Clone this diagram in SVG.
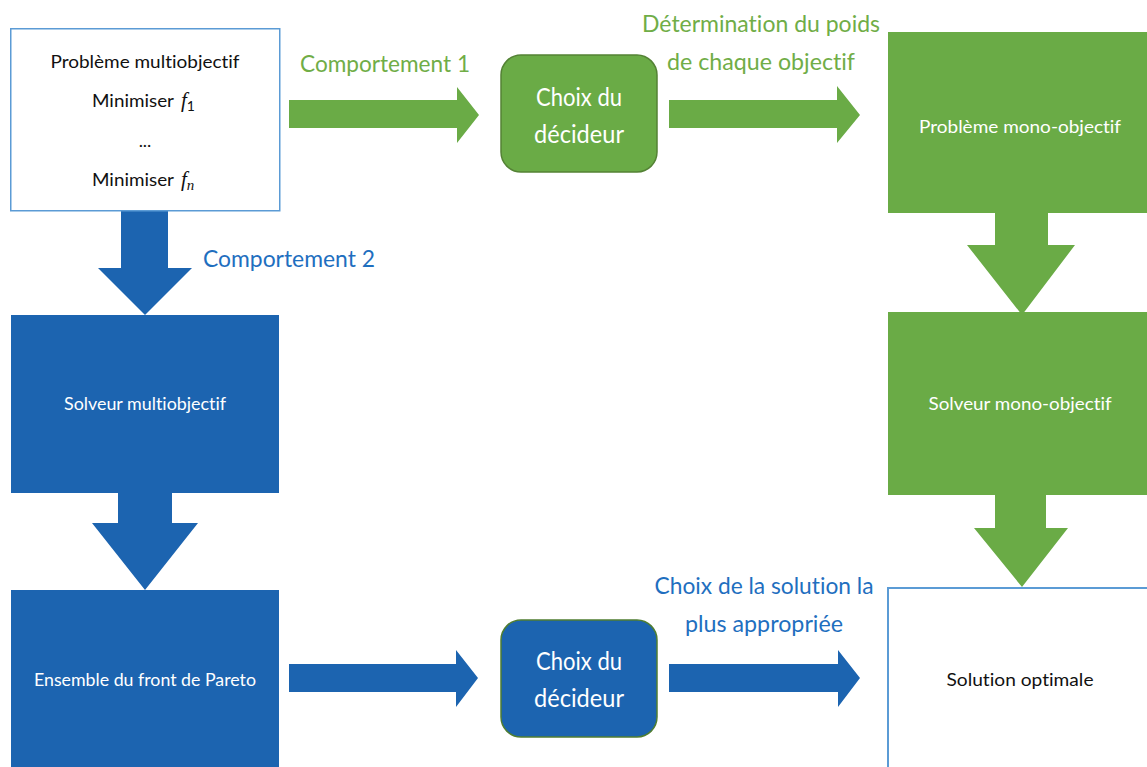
<svg xmlns="http://www.w3.org/2000/svg" width="1147" height="767" viewBox="0 0 1147 767">
<style>
text{font-variant-ligatures:none}
.lbl{font-family:Lato,"Open Sans","Liberation Sans",sans-serif;font-size:24px;text-anchor:middle}
.g{fill:#70AD47}
.b{fill:#1F6FBF}
.nt{font-family:Lato,"Open Sans","Liberation Sans",sans-serif;font-size:18px;text-anchor:middle}
.w{fill:#ffffff}
.k{fill:#111111}
.gf{fill:#6AAB46}
.bf{fill:#1C64B0}
.dec{font-family:Lato,"Open Sans","Liberation Sans",sans-serif;font-size:25px;text-anchor:middle;fill:#ffffff}
.m{font-family:"Liberation Serif",serif;font-style:italic}
</style>
<rect width="1147" height="767" fill="#ffffff"/>
<g id="connectors">
<polygon id="c1" class="gf" points="289,100 457,100 457,87 479,115 457,143 457,128 289,128"/>
<polygon id="c2" class="gf" points="669,100 837,100 837,86 860,115 837,143 837,128 669,128"/>
<polygon id="c3" class="bf" points="121,211 168,211 168,268 192,268 145,315 98,268 121,268"/>
<polygon id="c4" class="bf" points="118,493 172,493 172,523 198,523 145,590 92,523 118,523"/>
<polygon id="c5" class="bf" points="289,664 456,664 456,650 478,678 456,707 456,692 289,692"/>
<polygon id="c6" class="bf" points="669,664 838,664 838,650 860,678 838,707 838,692 669,692"/>
<polygon id="c7" class="gf" points="995,213 1048,213 1048,245 1075,245 1022,315 967,245 995,245"/>
<polygon id="c8" class="gf" points="995,495 1046,495 1046,528 1068,528 1022,587 974,528 995,528"/>
<text class="lbl g" x="385" y="72" textLength="170" lengthAdjust="spacingAndGlyphs">Comportement 1</text>
<text class="lbl g" x="761" y="32" textLength="238" lengthAdjust="spacingAndGlyphs">Détermination du poids</text>
<text class="lbl g" x="761" y="70" textLength="188" lengthAdjust="spacingAndGlyphs">de chaque objectif</text>
<text class="lbl b" x="289" y="267" textLength="172" lengthAdjust="spacingAndGlyphs">Comportement 2</text>
<text class="lbl b" x="764" y="594" textLength="219" lengthAdjust="spacingAndGlyphs">Choix de la solution la</text>
<text class="lbl b" x="764" y="632" textLength="158" lengthAdjust="spacingAndGlyphs">plus appropriée</text>
</g>
<g id="n-multi">
<rect x="10.75" y="28.75" width="269" height="182" fill="#ffffff" stroke="#5B9BD5" stroke-width="1.5"/>
<text class="nt k" x="145" y="68" textLength="189" lengthAdjust="spacingAndGlyphs">Problème multiobjectif</text>
<text class="nt k" x="92" y="107" style="text-anchor:start"><tspan textLength="82" lengthAdjust="spacingAndGlyphs">Minimiser</tspan><tspan class="m" x="181" font-size="21">f</tspan><tspan font-size="14" dy="4">1</tspan></text>
<text class="nt k" x="145" y="147" font-size="14">...</text>
<text class="nt k" x="92" y="186" style="text-anchor:start"><tspan textLength="82" lengthAdjust="spacingAndGlyphs">Minimiser</tspan><tspan class="m" x="181" font-size="21">f</tspan><tspan class="m" font-size="15" dy="4">n</tspan></text>
</g>
<g id="n-decideur1">
<rect x="501" y="55" width="156" height="117" rx="20" class="gf" stroke="#548235" stroke-width="1.5"/>
<text class="dec" x="579" y="106" textLength="86" lengthAdjust="spacingAndGlyphs">Choix du</text>
<text class="dec" x="579" y="143" textLength="90" lengthAdjust="spacingAndGlyphs">décideur</text>
</g>
<g id="n-mono">
<rect x="888" y="32" width="259" height="181" class="gf"/>
<text class="nt w" x="1020" y="133" textLength="202" lengthAdjust="spacingAndGlyphs">Problème mono-objectif</text>
</g>
<g id="n-solveur-mono">
<rect x="888" y="312" width="259" height="183" class="gf"/>
<text class="nt w" x="1020" y="410" textLength="183" lengthAdjust="spacingAndGlyphs">Solveur mono-objectif</text>
</g>
<g id="n-solveur-multi">
<rect x="11" y="315" width="268" height="178" class="bf"/>
<text class="nt w" x="145" y="410" textLength="162" lengthAdjust="spacingAndGlyphs">Solveur multiobjectif</text>
</g>
<g id="n-pareto">
<rect x="11" y="590" width="268" height="180" class="bf"/>
<text class="nt w" x="145" y="686" textLength="222" lengthAdjust="spacingAndGlyphs">Ensemble du front de Pareto</text>
</g>
<g id="n-decideur2">
<rect x="501" y="620" width="156" height="117" rx="20" class="bf" stroke="#507E32" stroke-width="1.5"/>
<text class="dec" x="579" y="670" textLength="86" lengthAdjust="spacingAndGlyphs">Choix du</text>
<text class="dec" x="579" y="707" textLength="90" lengthAdjust="spacingAndGlyphs">décideur</text>
</g>
<g id="n-solution">
<rect x="888" y="588" width="262" height="185" fill="#ffffff" stroke="#5B9BD5" stroke-width="2"/>
<text class="nt k" x="1020" y="686" textLength="147" lengthAdjust="spacingAndGlyphs">Solution optimale</text>
</g>
</svg>
